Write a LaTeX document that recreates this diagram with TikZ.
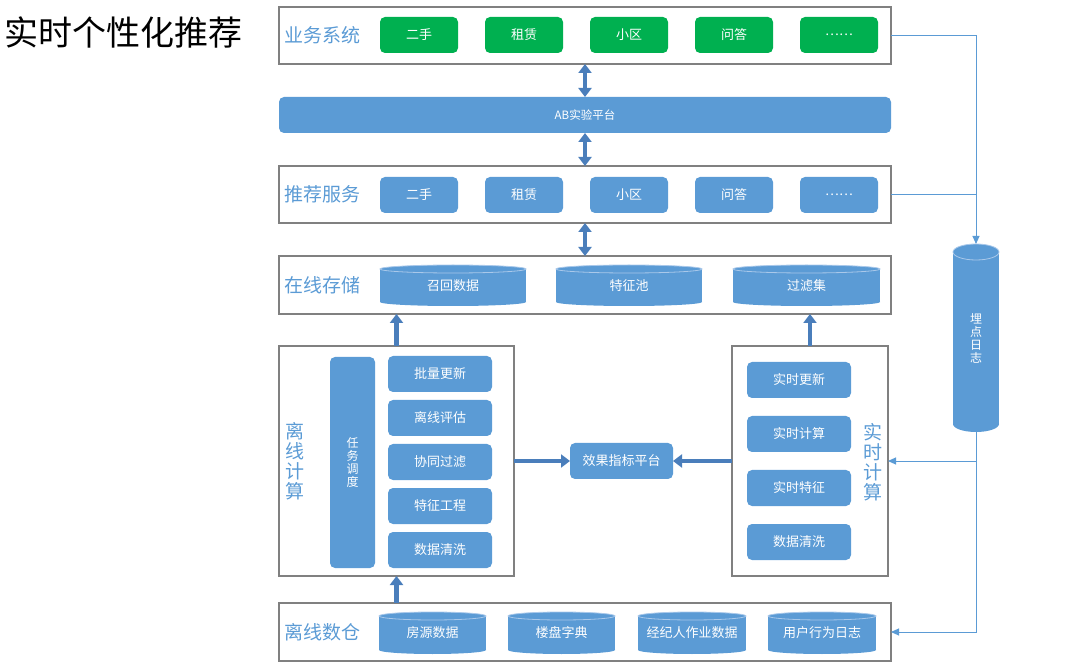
\documentclass[tikz,border=0pt]{standalone}
\usepackage{fontspec}
\setmainfont{Noto Sans CJK SC}
\usetikzlibrary{arrows.meta,calc}
\definecolor{bblue}{HTML}{5B9BD5}
\definecolor{ggreen}{HTML}{00B050}
\definecolor{ablue}{HTML}{4A7EBB}
\definecolor{bgray}{HTML}{808080}
\definecolor{cedge}{HTML}{A9C8EA}
\definecolor{lblue}{HTML}{5B9BD5}
% #1 options, #2 name, #3 cx, #4 cy, #5 rx, #6 half height, #7 ry, #8 text
\newcommand\mycyl[8]{%
  \fill[bblue] ($(#3,#4)+(-#5,-#6+#7)$) rectangle ($(#3,#4)+(#5,#6-#7)$);
  \fill[bblue] ($(#3,#4)+(0,#6-#7)$) ellipse[x radius=#5, y radius=#7];
  \fill[bblue] ($(#3,#4)+(0,-#6+#7)$) ellipse[x radius=#5, y radius=#7];
  \draw[cedge, line width=0.8pt] ($(#3,#4)+(0,-#6+#7)$) ellipse[x radius=#5, y radius=#7];
  \node[cyltext, minimum width=2*#5pt, minimum height=2*#6pt, #1] (#2) at (#3,#4) {#8};
}
\begin{document}
\begin{tikzpicture}[x=1pt,y=-1pt,
  container/.style={draw=bgray, line width=1.2pt, inner sep=0pt, outer sep=0pt},
  gbox/.style={fill=ggreen, rounded corners=5pt, text=white, inner sep=0pt, outer sep=0pt,
    minimum width=78pt, minimum height=36pt, font=\fontsize{13}{15}\selectfont},
  bbox/.style={fill=bblue, rounded corners=5pt, text=white, inner sep=0pt, outer sep=0pt,
    minimum width=78pt, minimum height=36pt, font=\fontsize{13}{15}\selectfont},
  sbox/.style={bbox, minimum width=104pt},
  cyltext/.style={inner sep=0pt, outer sep=0pt, text=white, align=center, font=\fontsize{13}{15}\selectfont},
  layerlabel/.style={text=lblue, font=\fontsize{19}{21}\selectfont, inner sep=0pt},
  vlabel/.style={text=lblue, font=\fontsize{19}{20}\selectfont, align=center, inner sep=0pt},
  fat/.style={draw=ablue, line width=4.5pt, -{Triangle[width=13pt,length=9pt]}},
  fatdbl/.style={draw=ablue, line width=4.5pt, {Triangle[width=13pt,length=9pt]}-{Triangle[width=13pt,length=9pt]}},
  thin/.style={draw=lblue, line width=0.9pt},
  thinarr/.style={thin, -{Triangle[width=7pt,length=8pt]}}
]
\useasboundingbox (0,0) rectangle (1080,668);

% title
\node[anchor=west, inner sep=0pt, font=\fontsize{34}{37}\selectfont] (title) at (4,32) {实时个性化推荐};

% layer 1
\node[container, minimum width=612pt, minimum height=57pt] (sys) at (585,35.5) {};
\node[layerlabel] (sysl) at (322,35) {业务系统};
\node[gbox] (g1) at (419,35) {二手};
\node[gbox] (g2) at (524,35) {租赁};
\node[gbox] (g3) at (629,35) {小区};
\node[gbox] (g4) at (734,35) {问答};
\node[gbox] (g5) at (839,35) {……};

% AB
\node[bbox, minimum width=612pt, minimum height=36pt, font=\fontsize{11.5}{13}\selectfont] (ab) at (585,115) {AB实验平台};

% layer rec
\node[container, minimum width=612pt, minimum height=57pt] (rec) at (585,194.5) {};
\node[layerlabel] (recl) at (322,194) {推荐服务};
\node[bbox] (r1) at (419,195) {二手};
\node[bbox] (r2) at (524,195) {租赁};
\node[bbox] (r3) at (629,195) {小区};
\node[bbox] (r4) at (734,195) {问答};
\node[bbox] (r5) at (839,195) {……};

% online storage
\node[container, minimum width=612pt, minimum height=58pt] (store) at (585,285) {};
\node[layerlabel] (storel) at (322,285) {在线存储};
\mycyl{}{c1}{453}{285.5}{73}{20.5}{4}{召回数据}
\mycyl{}{c2}{629}{285.5}{73}{20.5}{4}{特征池}
\mycyl{}{c3}{806.5}{285.5}{73.5}{20.5}{4}{过滤集}

% offline compute
\node[container, minimum width=235pt, minimum height=230pt] (off) at (396.5,461) {};
\node[vlabel] (offl) at (295,461) {离\\线\\计\\算};
\node[bbox, minimum width=45pt, minimum height=211pt, align=center, font=\fontsize{12}{13}\selectfont] (task) at (352.5,462.5) {任\\务\\调\\度};
\node[sbox] (o1) at (440,374) {批量更新};
\node[sbox] (o2) at (440,418) {离线评估};
\node[sbox] (o3) at (440,462) {协同过滤};
\node[sbox] (o4) at (440,506) {特征工程};
\node[sbox] (o5) at (440,550) {数据清洗};

% effect platform
\node[bbox, minimum width=103pt] (eff) at (621.5,461) {效果指标平台};

% realtime compute
\node[container, minimum width=156pt, minimum height=230pt] (rt) at (810,461) {};
\node[vlabel] (rtl) at (873,462) {实\\时\\计\\算};
\node[sbox] (t1) at (799,380) {实时更新};
\node[sbox] (t2) at (799,434) {实时计算};
\node[sbox] (t3) at (799,488) {实时特征};
\node[sbox] (t4) at (799,542) {数据清洗};

% log cylinder
\mycyl{font=\fontsize{12}{13}\selectfont}{log}{976}{338}{23}{94}{8}{埋\\点\\日\\志}

% warehouse
\node[container, minimum width=612pt, minimum height=58pt] (wh) at (585,632) {};
\node[layerlabel] (whl) at (322,632) {离线数仓};
\mycyl{}{d1}{432.5}{633}{53.5}{21}{4}{房源数据}
\mycyl{}{d2}{561.5}{633}{53.5}{21}{4}{楼盘字典}
\mycyl{}{d3}{692}{633}{54}{21}{4}{经纪人作业数据}
\mycyl{}{d4}{822}{633}{54}{21}{4}{用户行为日志}

% fat arrows
\draw[fatdbl] (sys.south) -- (ab.north);
\draw[fatdbl] (ab.south) -- (rec.north);
\draw[fatdbl] (rec.south) -- (store.north);
\draw[fat] (off.north) -- (off.north |- store.south);
\draw[fat] (rt.north) -- (rt.north |- store.south);
\draw[fat] (off.south |- wh.north) -- (off.south);
\draw[fat] (off.east) -- (eff.west);
\draw[fat] (rt.west) -- (eff.east);

% thin lines
\draw[thinarr] (sys.east) -- (log.north |- sys.east) -- (log.north);
\draw[thin] (rec.east) -- (log.north |- rec.east);
\draw[thinarr] (log.south) -- (log.south |- wh.east) -- (wh.east);
\draw[thinarr] (log.south |- rt.east) -- (rt.east);
\end{tikzpicture}
\end{document}
